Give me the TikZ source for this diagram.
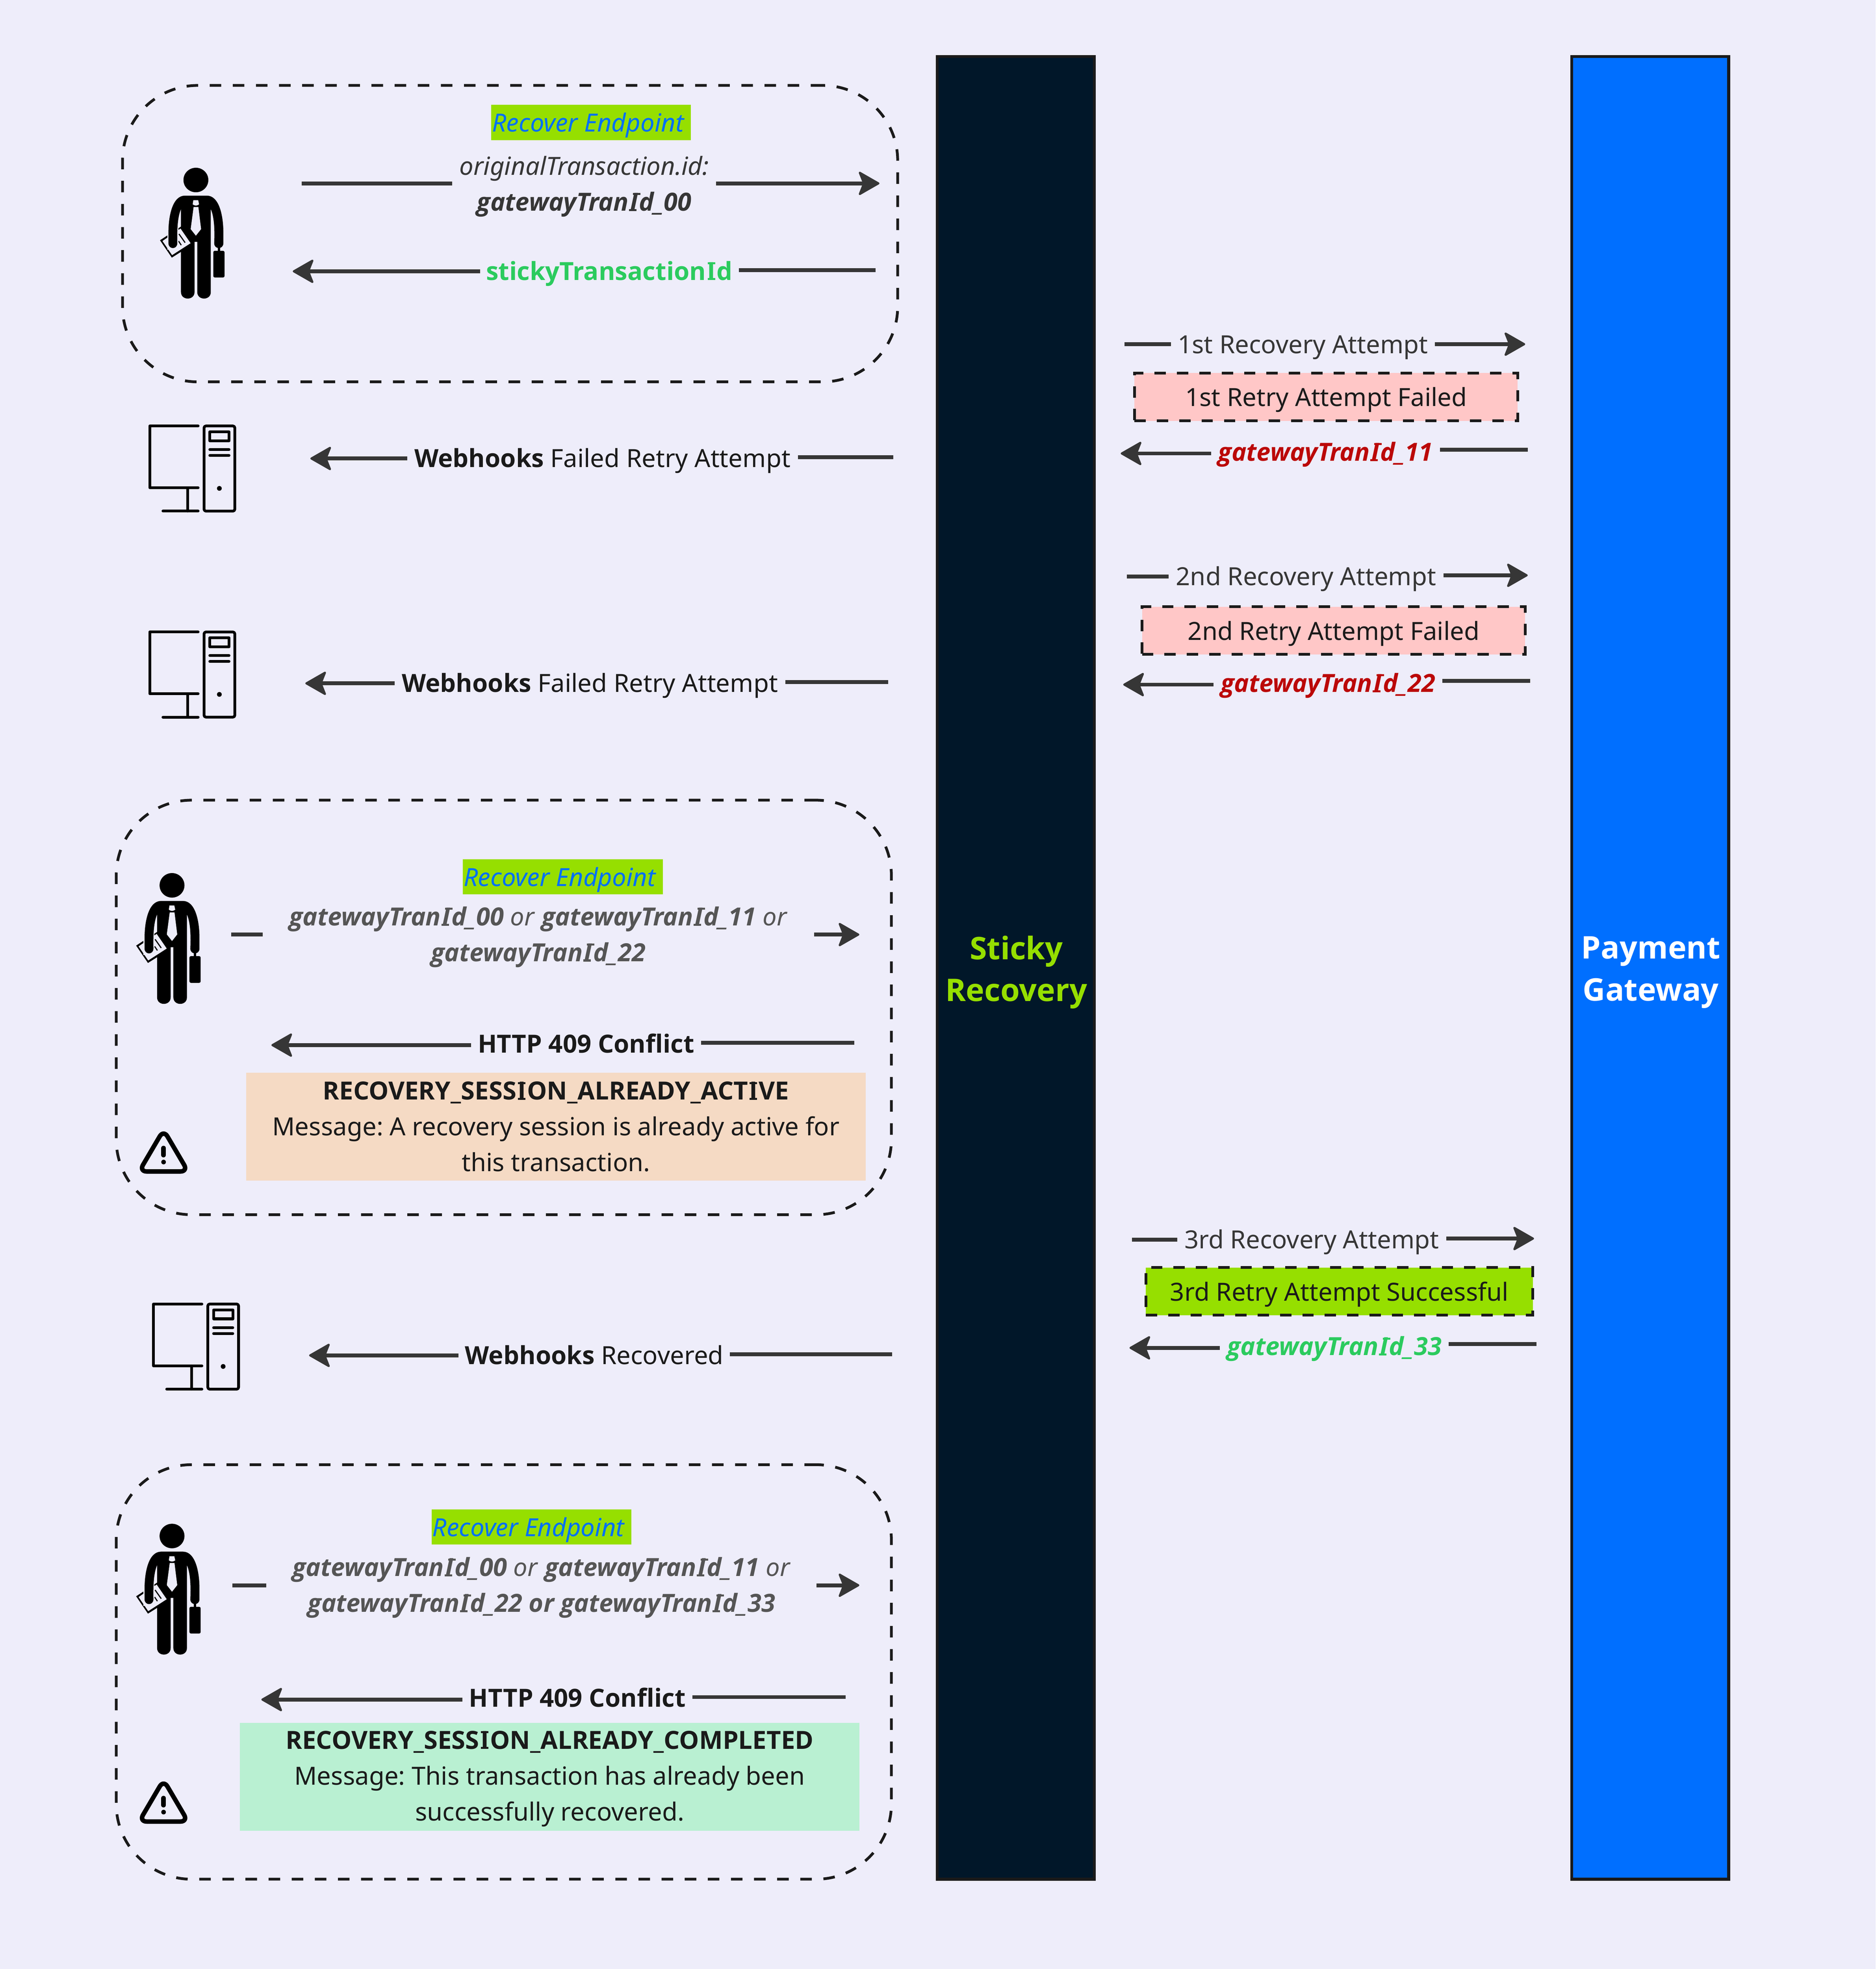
\documentclass[tikz,border=0pt]{standalone}
\usepackage{fontspec}
\setmainfont{Noto Sans}
\newfontfamily\heavy{Open Sans}
\newcommand{\bo}[1]{{\heavy\bfseries #1}}
\newcommand{\boi}[1]{{\heavy\bfseries\itshape #1}}
% capital I with slab serifs, as the reference's bold face draws it
\newcommand{\sIu}{\kern.05em\rlap{\kern.015em\rule{.3em}{.08em}}\rlap{\kern.015em\rule[.634em]{.3em}{.08em}}I\kern.05em}
\newcommand{\sIi}{\kern.05em\rlap{\kern-.03em\rule{.3em}{.08em}}\rlap{\kern.12em\rule[.634em]{.3em}{.08em}}I\kern.05em}
\usetikzlibrary{arrows.meta}
\definecolor{bgc}{HTML}{EEEDFA}
\definecolor{lnc}{HTML}{363636}
\definecolor{ink}{HTML}{1A1A1A}
\definecolor{greytxt}{HTML}{555555}
\definecolor{limec}{HTML}{96DF00}
\definecolor{bluec}{HTML}{006FFF}
\definecolor{navyc}{HTML}{011729}
\definecolor{greenc}{HTML}{2BCB5E}
\definecolor{redc}{HTML}{BB0808}
\definecolor{pinkc}{HTML}{FFC7C7}
\definecolor{peachc}{HTML}{F5DAC4}
\definecolor{mintc}{HTML}{B9F0D2}
\tikzset{
  ln/.style={line width=3.1pt,color=lnc},
  ar/.style={ln,-{Stealth[length=18pt,width=20.5pt,inset=4pt,round,line width=1.6pt]}},
  lab/.style={inner sep=0pt,outer sep=0pt,minimum width=#1,text height=15pt,text depth=0pt,
    font=\fontsize{19.9}{28.5}\selectfont\frenchspacing},
  tall/.style={inner sep=0pt,outer sep=0pt,minimum width=#1,align=center,
    font=\fontsize{19.9}{28.5}\selectfont\frenchspacing},
  endpt/.style={fill=limec,text=bluec,inner sep=0pt,outer sep=0pt,minimum width=159pt,minimum height=28pt,
    text height=15pt,text depth=0pt,font=\fontsize{19.9}{28.5}\selectfont\itshape},
  bar/.style={draw=ink,line width=2.4pt,minimum width=125pt,minimum height=1451pt,inner sep=0pt},
  bartxt/.style={align=center,inner sep=0pt,font=\fontsize{24.8}{33.5}\selectfont\heavy\bfseries},
  dbox/.style={draw=ink,line width=2.2pt,dash pattern=on 9.2pt off 9.2pt,inner sep=0pt,minimum width=617pt,rounded corners=60pt},
  resbox/.style={draw=ink,line width=2.2pt,dash pattern=on 9pt off 8.8pt,inner sep=0pt,minimum height=38pt,text=ink,
    text height=15pt,text depth=0pt,font=\fontsize{19.9}{28.5}\selectfont},
  msg/.style={inner sep=0pt,minimum width=493pt,minimum height=86pt},
  msgtxt/.style={inner sep=0pt,align=center,text=ink,font=\fontsize{19.9}{28.5}\selectfont\frenchspacing},
  pics/monitor/.style={code={
    \begin{scope}[line width=2.2pt,line cap=round,line join=round,color=black]
      \draw (39.7,1.1) -- (1.2,1.1) -- (1.2,50.3) -- (39.7,50.3);
      \draw (31.5,50.3) -- (31.5,68.9);
      \draw (11.7,68.9) -- (39.7,68.9);
      \draw[rounded corners=1.5pt] (44.4,1.1) rectangle (68.9,68.9);
      \draw (49,5.8) rectangle (64.3,12.9);
      \draw (49,19.9) -- (64.3,19.9);
      \draw (49,24.6) -- (64.3,24.6);
      \fill (56.6,50.8) circle (1.9pt);
    \end{scope}}},
  pics/person/.style={code={
    \begin{scope}[x=0.07286pt,y=-0.08643pt]
      \fill[black] (790,343) ellipse [x radius=136,y radius=113];
      \fill[black] (670,487) -- (910,487) .. controls (1040,487) and (1090,660) .. (1090,830) -- (1090,925)
        .. controls (1090,985) and (990,985) .. (990,925) .. controls (995,830) and (995,690) .. (953,612)
        -- (953,1375) .. controls (953,1455) and (805,1455) .. (805,1375) -- (805,913) -- (775,913) -- (775,1375)
        .. controls (775,1455) and (627,1455) .. (627,1375) -- (627,612) -- cycle;
      \fill[black] (1028,960) rectangle (1055,1000);
      \fill[black,rounded corners=1.2pt] (980,995) rectangle (1103,1241);
      \fill[bgc] (762,529) -- (815,529) -- (825,567) .. controls (805,582) and (775,582) .. (755,567) -- cycle;
      \fill[bgc] (765,592) -- (817,592) -- (847,795) -- (790,856) -- (733,795) -- cycle;
      % clipboard
      \fill[black] (398,898) -- (527,1058) -- (640,998) -- (640,765) -- cycle;
      \fill[bgc] (425,905) -- (530,1035) -- (732,925) -- (622,790) -- cycle;
      \draw[black,line width=0.9pt] (605,840) -- (672,920);
      \draw[black,line width=0.9pt] (600,905) -- (630,943);
      \fill[bgc] (477,780) rectangle (598,985);
      \fill[black] (670,487) .. controls (540,487) and (490,660) .. (490,830) -- (490,925)
        .. controls (490,985) and (587,985) .. (587,925) .. controls (585,830) and (585,690) .. (627,612) -- (700,600) -- cycle;
    \end{scope}}},
  pics/warn/.style={code={
    \begin{scope}[x=0.07286pt,y=-0.07286pt]
      \draw[black,line width=3.6pt,rounded corners=6pt,line join=round] (437,345) -- (170,800) -- (704,800) -- cycle;
      \draw[black,line width=3.8pt,line cap=round] (437,545) -- (437,620);
      \fill[black] (437,697) circle (1.85pt);
    \end{scope}}}
}
\begin{document}
\begin{tikzpicture}[x=1pt,y=-1pt]
\useasboundingbox (0,0) rectangle (1493,1567.5);
\fill[bgc] (0,0) rectangle (1493,1567.5);

% bars
\node[bar,fill=navyc] (sticky) at (808.5,770.5) {};
\node[bar,fill=bluec] (gateway) at (1313.5,770.5) {};
\node[bartxt,text=limec] (stickyt) at (809,774) {Sticky\\Recovery};
\node[bartxt,text=white] (gatewayt) at (1314,774) {Payment\\Gateway};

% dashed groups
\node[dbox,minimum height=236pt] (g1) at (406,186) {};
\node[dbox,minimum height=330pt] (g2) at (401,802) {};
\node[dbox,minimum height=330pt] (g3) at (401,1331) {};

% icons
\pic (p1) at (98.36,113.66) {person};
\pic (p2) at (79.36,675.16) {person};
\pic (p3) at (79.36,1193.16) {person};
\pic (m1) at (118,338) {monitor};
\pic (m2) at (118,502) {monitor};
\pic (m3) at (121,1037) {monitor};
\pic (w1) at (98.36,874.3) {warn};
\pic (w2) at (98.36,1391.8) {warn};

% group 1
\node[endpt] (ep1) at (470.5,97.5) {Recover Endpoint\kern5pt};
\node[tall=210pt,text=lnc] (orig) at (465,148.5) {\textit{originalTransaction.id:}\\\boi{gatewayTran\sIi d\_00}};
\coordinate (o1) at (240,146); \coordinate (o2) at (700,146);
\draw[ln] (o1) -- (orig.west |- o1); \draw[ar] (orig.east |- o2) -- (o2);
\node[lab=206pt,text=greenc] (st) at (485,215.5) {\bo{stickyTransaction\sIu d}};
\coordinate (s1) at (697,215); \coordinate (s2) at (233,216);
\draw[ln] (s1) -- (st.east |- s1); \draw[ar] (st.west |- s2) -- (s2);

% webhooks
\node[lab=311pt,text=ink] (wh1) at (479.5,364.5) {\bo{Webhooks} Failed Retry Attempt};
\coordinate (wa1) at (711,364); \coordinate (wa2) at (247,365);
\draw[ln] (wa1) -- (wh1.east |- wa1); \draw[ar] (wh1.west |- wa2) -- (wa2);
\node[lab=311pt,text=ink] (wh2) at (469.5,543.5) {\bo{Webhooks} Failed Retry Attempt};
\coordinate (wb1) at (707,543); \coordinate (wb2) at (243,544);
\draw[ln] (wb1) -- (wh2.east |- wb1); \draw[ar] (wh2.west |- wb2) -- (wb2);
\node[lab=216pt,text=ink] (wh3) at (473,1078.5) {\bo{Webhooks} Recovered};
\coordinate (wc1) at (710,1078); \coordinate (wc2) at (246,1079);
\draw[ln] (wc1) -- (wh3.east |- wc1); \draw[ar] (wh3.west |- wc2) -- (wc2);

% group 2
\node[endpt] (ep2) at (448,698) {Recover Endpoint\kern5pt};
\node[tall=439pt,text=greytxt] (ids2) at (428.5,746) {\boi{gatewayTran\sIi d\_00} \textit{or} \boi{gatewayTran\sIi d\_11} \textit{or}\\\boi{gatewayTran\sIi d\_22}};
\coordinate (i1) at (184,744); \coordinate (i2) at (684,744);
\draw[ln] (i1) -- (ids2.west |- i1); \draw[ar] (ids2.east |- i2) -- (i2);
\node[lab=183pt,text=ink] (c1) at (466.5,830.5) {\bo{HTTP 409 Conflict}};
\coordinate (h1) at (680,830); \coordinate (h2) at (216,832);
\draw[ln] (h1) -- (c1.east |- h1); \draw[ar] (c1.west |- h2) -- (h2);
\node[msg,fill=peachc] (m409a) at (442.5,897) {};
\node[msgtxt] (m409at) at (442.5,897) {\bo{RECOVERY\_SESS\sIu ON\_ALREADY\_ACT\sIu VE}\\Message: A recovery session is already active for\\this transaction.};

% group 3
\node[endpt] (ep3) at (423,1215.5) {Recover Endpoint\kern5pt};
\node[tall=438pt,text=greytxt] (ids3) at (431,1264) {\boi{gatewayTran\sIi d\_00} \textit{or} \boi{gatewayTran\sIi d\_11} \textit{or}\\\boi{gatewayTran\sIi d\_22 or gatewayTran\sIi d\_33}};
\coordinate (j1) at (185,1262); \coordinate (j2) at (684,1262);
\draw[ln] (j1) -- (ids3.west |- j1); \draw[ar] (ids3.east |- j2) -- (j2);
\node[lab=183pt,text=ink] (c2) at (459.5,1351.5) {\bo{HTTP 409 Conflict}};
\coordinate (k1) at (673,1351); \coordinate (k2) at (208,1353);
\draw[ln] (k1) -- (c2.east |- k1); \draw[ar] (c2.west |- k2) -- (k2);
\node[msg,fill=mintc] (m409b) at (437.5,1414.5) {};
\node[msgtxt] (m409bt) at (437.5,1416) {\bo{RECOVERY\_SESS\sIu ON\_ALREADY\_COMPLETED}\\Message: This transaction has already been\\successfully recovered.};

% right side, attempt 1
\node[lab=210pt,text=lnc] (r1) at (1037,274) {1st Recovery Attempt};
\coordinate (r1a) at (895,274); \coordinate (r1b) at (1214,274);
\draw[ln] (r1a) -- (r1.west |- r1a); \draw[ar] (r1.east |- r1b) -- (r1b);
\node[resbox,fill=pinkc,minimum width=305pt] (f1) at (1055.5,316) {1st Retry Attempt Failed};
\node[lab=182pt,text=redc] (t1) at (1055,359.5) {\boi{gatewayTran\sIi d\_11}};
\coordinate (t1a) at (1216,358); \coordinate (t1b) at (892,361);
\draw[ln] (t1a) -- (t1.east |- t1a); \draw[ar] (t1.west |- t1b) -- (t1b);

% attempt 2
\node[lab=219pt,text=lnc] (r2) at (1039.5,458.5) {2nd Recovery Attempt};
\coordinate (r2a) at (897,459); \coordinate (r2b) at (1216,458);
\draw[ln] (r2a) -- (r2.west |- r2a); \draw[ar] (r2.east |- r2b) -- (r2b);
\node[resbox,fill=pinkc,minimum width=305pt] (f2) at (1061.5,502) {2nd Retry Attempt Failed};
\node[lab=182pt,text=redc] (t2) at (1057,543.5) {\boi{gatewayTran\sIi d\_22}};
\coordinate (t2a) at (1218,542); \coordinate (t2b) at (894,545);
\draw[ln] (t2a) -- (t2.east |- t2a); \draw[ar] (t2.west |- t2b) -- (t2b);

% attempt 3
\node[lab=214pt,text=lnc] (r3) at (1044,986.5) {3rd Recovery Attempt};
\coordinate (r3a) at (901,987); \coordinate (r3b) at (1221,986);
\draw[ln] (r3a) -- (r3.west |- r3a); \draw[ar] (r3.east |- r3b) -- (r3b);
\node[resbox,fill=limec,minimum width=308pt] (f3) at (1066,1028) {3rd Retry Attempt Successful};
\node[lab=182pt,text=greenc] (t3) at (1062,1071.5) {\boi{gatewayTran\sIi d\_33}};
\coordinate (t3a) at (1223,1070); \coordinate (t3b) at (899,1073);
\draw[ln] (t3a) -- (t3.east |- t3a); \draw[ar] (t3.west |- t3b) -- (t3b);
\end{tikzpicture}
\end{document}
